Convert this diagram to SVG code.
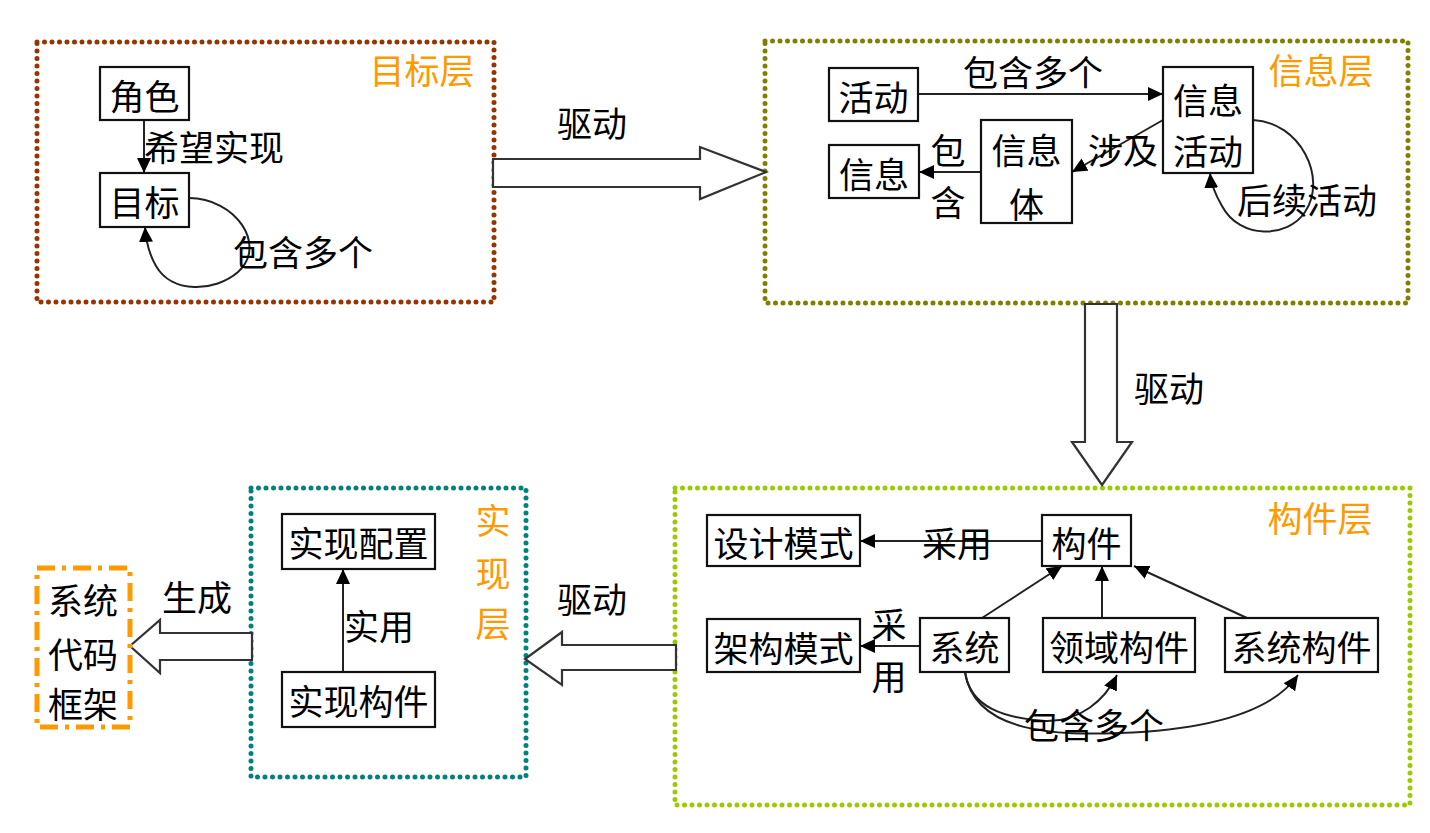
<svg xmlns="http://www.w3.org/2000/svg" width="1430" height="833" viewBox="0 0 1430 833">
<defs>
<style>
text{font-family:"Noto Sans CJK SC","Noto Sans CJK JP",sans-serif;font-size:35px;fill:#000;text-anchor:middle;dominant-baseline:central}
.ttl{fill:#FF9900}
.box{fill:#fff;stroke:#111;stroke-width:2.2}
.layer{fill:none;stroke-width:5;stroke-dasharray:0 7.5;stroke-linecap:round}
.con{fill:none;stroke:#222;stroke-width:2}
.arr{marker-end:url(#ah)}
.blk{fill:#fff;stroke:#333;stroke-width:2.2;stroke-linejoin:miter}
</style>
<marker id="ah" markerUnits="userSpaceOnUse" markerWidth="16" markerHeight="14" refX="15" refY="7" orient="auto">
<path d="M0,0 L15,7 L0,14 z" fill="#000"/>
</marker>
</defs>

<g id="layers">
<rect id="goal-layer" class="layer" x="37" y="42" width="457" height="260" stroke="#993300"/>
<rect id="info-layer" class="layer" x="765" y="41" width="643" height="262" stroke="#808000"/>
<rect id="comp-layer" class="layer" x="675" y="488" width="735" height="317" stroke="#99CC00"/>
<rect id="impl-layer" class="layer" x="251" y="488" width="275" height="289" stroke="#008080"/>
<text class="ttl" x="422" y="68">目标层</text>
<text class="ttl" x="1321" y="68">信息层</text>
<text class="ttl" x="1320" y="516">构件层</text>
<text class="ttl" x="493" y="518">实</text>
<text class="ttl" x="493" y="571">现</text>
<text class="ttl" x="493" y="621">层</text>
</g>

<g id="connectors">
<line class="con arr" x1="144" y1="120" x2="144" y2="173"/>
<path class="con arr" d="M189,198 C235,198 268,245 238,272 C215,292 172,294 156,266 C149,254 146,242 145,227"/>
<line class="con arr" x1="918" y1="94" x2="1163" y2="94"/>
<line class="con arr" x1="981" y1="172" x2="919" y2="172"/>
<line class="con arr" x1="1163" y1="120" x2="1072" y2="172"/>
<path class="con arr" d="M1253,120 C1300,122 1328,178 1305,212 C1288,238 1240,240 1222,206 C1215,194 1211,185 1210,173"/>
<line class="con arr" x1="1042" y1="541" x2="860" y2="541"/>
<line class="con arr" x1="920" y1="646" x2="860" y2="646"/>
<line class="con arr" x1="982" y1="618" x2="1062" y2="566"/>
<line class="con arr" x1="1102" y1="618" x2="1102" y2="566"/>
<line class="con arr" x1="1247" y1="618" x2="1134" y2="566"/>
<path class="con arr" d="M965,672 C970,708 1005,718 1045,721 C1080,722 1105,700 1117,675"/>
<path class="con arr" d="M965,672 C975,735 1060,735 1120,733 C1200,730 1270,715 1298,675"/>
<line class="con arr" x1="343" y1="672" x2="343" y2="569"/>
<polygon class="blk" points="493,159 700,159 700,147 766,172 700,199 700,187 493,187"/>
<polygon class="blk" points="1085,304 1117,304 1117,442 1132,442 1102,485 1072,442 1085,442"/>
<polygon class="blk" points="676,645 562,645 562,632 525,659 562,685 562,670 676,670"/>
<polygon class="blk" points="252,633 160,633 160,620 130,646 160,673 160,660 252,660"/>
<text x="214" y="145">希望实现</text>
<text x="303" y="250">包含多个</text>
<text x="592" y="121">驱动</text>
<text x="1033" y="70">包含多个</text>
<text x="948" y="148">包</text>
<text x="948" y="200">含</text>
<text x="1123" y="148">涉及</text>
<text x="1307" y="198">后续活动</text>
<text x="1169" y="386">驱动</text>
<text x="957" y="541">采用</text>
<text x="889" y="622">采</text>
<text x="889" y="674">用</text>
<text x="1094" y="723">包含多个</text>
<text x="592" y="597">驱动</text>
<text x="379" y="624">实用</text>
<text x="197" y="595">生成</text>
</g>

<g id="n-juese"><rect class="box" x="100" y="67" width="89" height="53"/><text x="144.5" y="94">角色</text></g>
<g id="n-mubiao"><rect class="box" x="100" y="173" width="89" height="54"/><text x="144.5" y="200">目标</text></g>
<g id="n-huodong"><rect class="box" x="829" y="68" width="89" height="53"/><text x="873.5" y="95">活动</text></g>
<g id="n-xinxihuodong"><rect class="box" x="1163" y="67" width="90" height="106"/><text x="1208" y="98">信息</text><text x="1208" y="149">活动</text></g>
<g id="n-xinxi"><rect class="box" x="829" y="145" width="90" height="53"/><text x="874" y="172">信息</text></g>
<g id="n-xinxiti"><rect class="box" x="981" y="120" width="91" height="103"/><text x="1026.5" y="148">信息</text><text x="1026.5" y="202">体</text></g>
<g id="n-shejimoshi"><rect class="box" x="707" y="515" width="153" height="51"/><text x="783.5" y="541">设计模式</text></g>
<g id="n-goujian"><rect class="box" x="1042" y="515" width="89" height="51"/><text x="1086.5" y="541">构件</text></g>
<g id="n-jiagoumoshi"><rect class="box" x="707" y="619" width="153" height="53"/><text x="783.5" y="646">架构模式</text></g>
<g id="n-xitong"><rect class="box" x="920" y="618" width="89" height="54"/><text x="964.5" y="645">系统</text></g>
<g id="n-lingyugoujian"><rect class="box" x="1043" y="618" width="152" height="54"/><text x="1119" y="645">领域构件</text></g>
<g id="n-xitonggoujian"><rect class="box" x="1225" y="618" width="153" height="54"/><text x="1301.5" y="645">系统构件</text></g>
<g id="n-shixianpeizhi"><rect class="box" x="282" y="514" width="153" height="55"/><text x="358.5" y="541">实现配置</text></g>
<g id="n-shixiangoujian"><rect class="box" x="282" y="672" width="153" height="55"/><text x="358.5" y="699">实现构件</text></g>
<g id="n-daimakuangjia"><rect x="37" y="568" width="93" height="159" fill="none" stroke="#FF9900" stroke-width="5" stroke-dasharray="18 7 4 7"/><text x="83" y="598">系统</text><text x="83" y="652">代码</text><text x="83" y="702">框架</text></g>
</svg>
